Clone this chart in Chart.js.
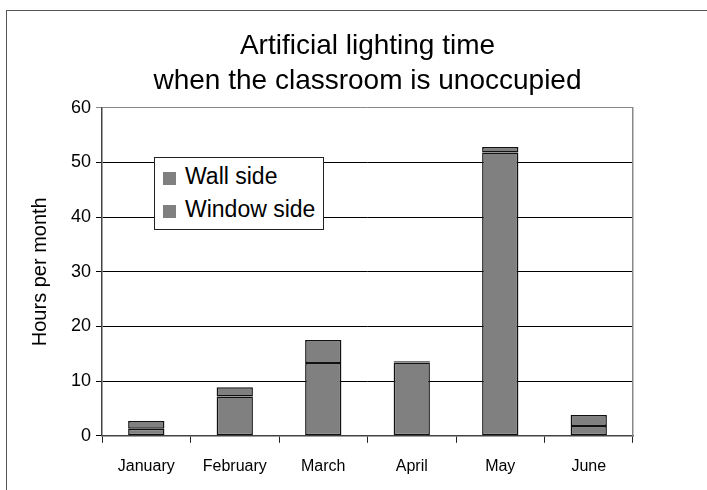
<!DOCTYPE html>
<html>
<head>
<meta charset="utf-8">
<script src="https://cdn.jsdelivr.net/npm/chart.js@4.4.0/dist/chart.umd.min.js"></script>
<style>
    html, body { margin: 0; padding: 0; background: #fff; overflow: hidden; }
    body { width: 707px; height: 490px; position: relative; }
    #frame {
        position: absolute; left: 6px; top: 10px;
        width: 722px; height: 490px;
        border: 1px solid #555; background: #fff;
    }
    #chart-box { position: absolute; left: 0; top: 0; width: 722px; height: 479px; }
    #legend {
        position: absolute; left: 147px; top: 146px;
        border: 1px solid #222; background: #fff;
        padding: 2px 8px 3px 8px;
        font-family: 'Liberation Sans', Arial, sans-serif; font-size: 23px; color: #000;
    }
    .legend-item { display: flex; align-items: center; height: 33px; }
    .legend-swatch { width: 13px; height: 13px; margin-right: 9px; margin-top: 4px; }
</style>
</head>
<body>
<div id="frame">
    <div id="chart-box"><canvas id="chart-canvas"></canvas></div>
    <div id="legend"></div>
</div>
<script>
const months = ['January', 'February', 'March', 'April', 'May', 'June'];
const wallSide = [1.3, 7.2, 13.3, 13.4, 51.8, 1.8];
const windowSide = [1.4, 1.7, 4.2, 0.25, 1.0, 2.0];
const seriesLabels = ['Wall side', 'Window side'];
const yTicks = [0, 10, 20, 30, 40, 50, 60];

const barColor = '#808080';
const fontFamily = "'Liberation Sans', Arial, sans-serif";

function buildLegend(datasets) {
    document.getElementById('legend').innerHTML = datasets.map(ds => `
        <div class="legend-item">
            <span class="legend-swatch" style="background:${ds.backgroundColor}"></span>
            <span>${ds.label}</span>
        </div>`).join('');
}

const datasets = [
    { label: seriesLabels[0], data: wallSide },
    { label: seriesLabels[1], data: windowSide }
].map(ds => ({
    ...ds,
    backgroundColor: barColor,
    borderColor: '#111',
    borderWidth: 1.5,
    borderSkipped: false,
    barPercentage: 0.41,
    categoryPercentage: 1
}));

const ctx = document.getElementById('chart-canvas').getContext('2d');
new Chart(ctx, {
    type: 'bar',
    data: { labels: months, datasets: datasets },
    options: {
        responsive: true,
        maintainAspectRatio: false,
        animation: false,
        layout: { padding: { top: 17, left: 21, right: 88, bottom: 0 } },
        plugins: {
            legend: { display: false },
            tooltip: { enabled: false },
            title: {
                display: true,
                fullSize: false,
                text: ['Artificial lighting time', 'when the classroom is unoccupied'],
                color: '#000',
                font: { family: fontFamily, size: 28, weight: 'normal', lineHeight: 1.28 },
                padding: { top: 0, bottom: 8 }
            }
        },
        scales: {
            x: {
                stacked: true,
                grid: {
                    offset: true,
                    drawOnChartArea: false,
                    tickLength: 7,
                    color: '#222'
                },
                border: { color: '#444', width: 1.5 },
                ticks: {
                    color: '#000',
                    padding: 14,
                    font: { family: fontFamily, size: 16 }
                }
            },
            y: {
                stacked: true,
                min: 0,
                max: 60,
                afterBuildTicks: axis => { axis.ticks = yTicks.map(v => ({ value: v })); },
                grid: {
                    color: c => c.tick && c.tick.value === 60 ? '#888' : '#000',
                    tickLength: 6,
                    lineWidth: 1
                },
                border: { color: '#444', width: 1.5 },
                ticks: {
                    color: '#000',
                    padding: 5,
                    font: { family: fontFamily, size: 18 }
                },
                title: {
                    display: true,
                    text: 'Hours per month',
                    color: '#000',
                    font: { family: fontFamily, size: 20 },
                    padding: { top: 0, bottom: 14 }
                }
            },
            y2: {
                position: 'right',
                min: 0,
                max: 60,
                grid: { display: false },
                ticks: { display: false },
                border: { color: '#888', width: 1.5 }
            }
        }
    }
});

buildLegend(datasets);
</script>
</body>
</html>
